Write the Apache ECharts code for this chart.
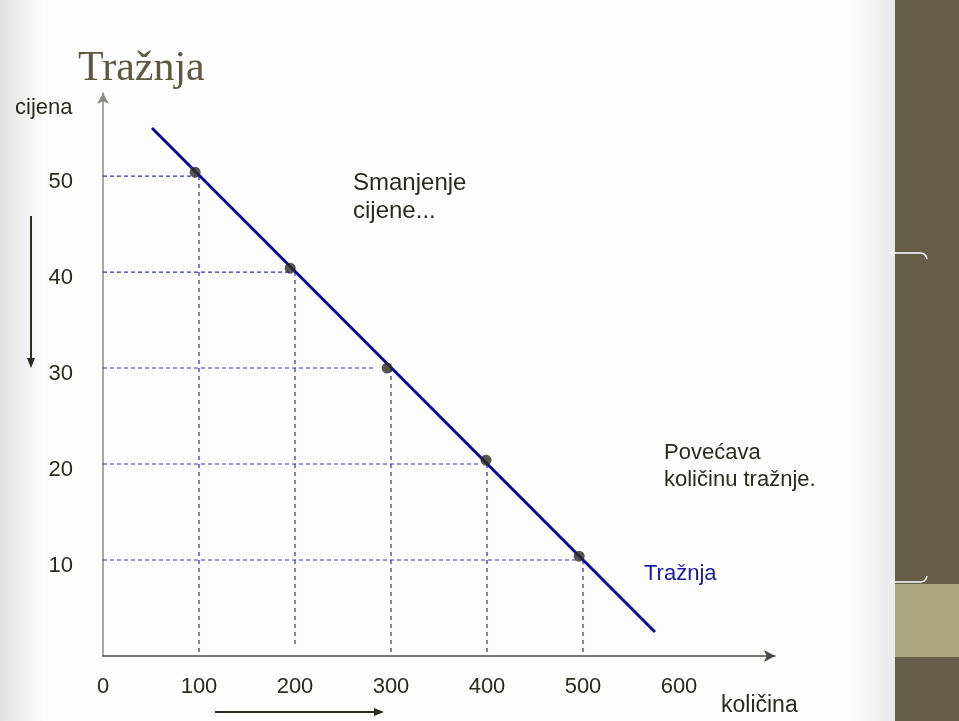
<!DOCTYPE html>
<html>
<head>
<meta charset="utf-8">
<script src="https://cdn.jsdelivr.net/npm/echarts@6/dist/echarts.min.js"></script>
<style>
  html, body { margin: 0; padding: 0; background: #fff; }
  #chart { width: 959px; height: 721px; }
</style>
</head>
<body>
<div id="chart"></div>
<script>
// tick values shown on the axes
var xTicks = [0, 100, 200, 300, 400, 500, 600]
var yTicks = [10, 20, 30, 40, 50]

// price levels and the quantity where each dashed guide meets the curve
var guidePrice = [50, 40, 30, 20, 10]
var guideQuantity = [100, 200, 300, 400, 500]
var guideEnd = [96, 195, 283, 393, 494]
var guideBottom = [0, 1, 0, 0, 0]

// marked points on the demand line
var dotQuantity = [96, 195, 296, 399, 496]
var dotPrice = [50.4, 40.4, 30, 20.4, 10.4]

// demand line end points
var demandQuantity = [51, 575]
var demandPrice = [55, 2.5]

var textColor = '#2a2a22'
var font = '"Liberation Sans", Arial, sans-serif'

var chart = echarts.init(document.getElementById('chart'))

var series = []
guidePrice.forEach(function (p, i) {
  series.push({
    type: 'line',
    silent: true,
    symbol: 'none',
    z: 1,
    lineStyle: { color: '#3030b8', width: 1.2, type: [4, 3] },
    data: [[0, p], [guideEnd[i], p]]
  })
  series.push({
    type: 'line',
    silent: true,
    symbol: 'none',
    z: 1,
    lineStyle: { color: '#7c7cd2', width: 2, type: [4, 4] },
    data: [[guideQuantity[i], p], [guideQuantity[i], guideBottom[i]]]
  })
})
series.push({
  name: 'Tražnja',
  type: 'line',
  symbol: 'none',
  z: 3,
  lineStyle: { color: '#0a0a96', width: 3 },
  data: demandQuantity.map(function (q, i) { return [q, demandPrice[i]] })
})
series.push({
  type: 'scatter',
  symbolSize: 11,
  z: 4,
  itemStyle: { color: '#2d2a22' },
  data: dotQuantity.map(function (q, i) { return [q, dotPrice[i]] })
})

chart.setOption({
  animation: false,
  grid: {
    left: 103,
    right: 184,
    top: 93,
    bottom: 65
  },
  xAxis: {
    type: 'value',
    min: 0,
    max: 700,
    interval: 100,
    splitLine: { show: false },
    axisTick: { show: false },
    axisLine: {
      onZero: false,
      symbol: ['none', 'arrow'],
      symbolSize: [9, 11],
      lineStyle: { color: '#4a4a44', width: 1.5 }
    },
    axisLabel: {
      margin: 20,
      color: textColor,
      fontSize: 22,
      fontFamily: font,
      formatter: function (v) { return xTicks.indexOf(v) >= 0 ? v : '' }
    }
  },
  yAxis: {
    type: 'value',
    min: 0,
    max: 58.65,
    interval: 10,
    splitLine: { show: false },
    axisTick: { show: false },
    axisLine: {
      onZero: false,
      symbol: ['none', 'arrow'],
      symbolSize: [9, 11],
      lineStyle: { color: '#8a8a86', width: 1.5 }
    },
    axisLabel: {
      margin: 30,
      color: textColor,
      fontSize: 22,
      fontFamily: font,
      verticalAlign: 'top',
      lineHeight: 12,
      formatter: function (v) { return yTicks.indexOf(v) >= 0 ? v : '' }
    }
  },
  graphic: [
    {
      type: 'rect', z: -100, silent: true,
      shape: { x: 0, y: 0, width: 895, height: 721 },
      style: {
        fill: new echarts.graphic.LinearGradient(0, 0, 1, 0, [
          { offset: 0, color: '#e2e2e2' },
          { offset: 0.05, color: '#fdfdfd' },
          { offset: 0.95, color: '#fdfdfd' },
          { offset: 1, color: '#e8e8e8' }
        ])
      }
    },
    { type: 'rect', z: -50, silent: true, shape: { x: 895, y: 0, width: 64, height: 721 }, style: { fill: '#665e48' } },
    { type: 'rect', z: -40, silent: true, shape: { x: 895, y: 584, width: 64, height: 73 }, style: { fill: '#aaa67f' } },
    { type: 'polyline', z: 10, silent: true, shape: { points: [[890, 253], [921, 253], [924, 254], [926, 256], [927, 259]] }, style: { stroke: '#ffffff', lineWidth: 1.5, fill: null } },
    { type: 'polyline', z: 10, silent: true, shape: { points: [[890, 582], [921, 582], [924, 581], [926, 579], [927, 576]] }, style: { stroke: '#ffffff', lineWidth: 1.5, fill: null } },

    { type: 'text', left: 78, top: 48, style: { text: 'Tražnja', fill: '#5e5840', font: '42px "Liberation Serif", "Times New Roman", serif' } },
    { type: 'text', left: 15, top: 97, style: { text: 'cijena', fill: textColor, font: '22px ' + font } },
    { type: 'text', left: 353, top: 169, style: { text: 'Smanjenje\ncijene...', fill: textColor, font: '24px ' + font, lineHeight: 28 } },
    { type: 'text', left: 664, top: 439, style: { text: 'Povećava\nkoličinu tražnje.', fill: textColor, font: '22px ' + font, lineHeight: 27 } },
    { type: 'text', left: 644, top: 563, style: { text: 'Tražnja', fill: '#1a1aa0', font: '22px ' + font } },
    { type: 'text', left: 721, top: 694, style: { text: 'količina', fill: textColor, font: '23px ' + font } },

    { type: 'line', silent: true, shape: { x1: 31, y1: 216, x2: 31, y2: 360 }, style: { stroke: '#2a2a20', lineWidth: 2 } },
    { type: 'polygon', silent: true, shape: { points: [[27, 358], [35, 358], [31, 368]] }, style: { fill: '#2a2a20' } },
    { type: 'line', silent: true, shape: { x1: 215, y1: 712, x2: 376, y2: 712 }, style: { stroke: '#2a2a20', lineWidth: 2 } },
    { type: 'polygon', silent: true, shape: { points: [[374, 708], [374, 716], [384, 712]] }, style: { fill: '#2a2a20' } }
  ],
  series: series
})
</script>
</body>
</html>
